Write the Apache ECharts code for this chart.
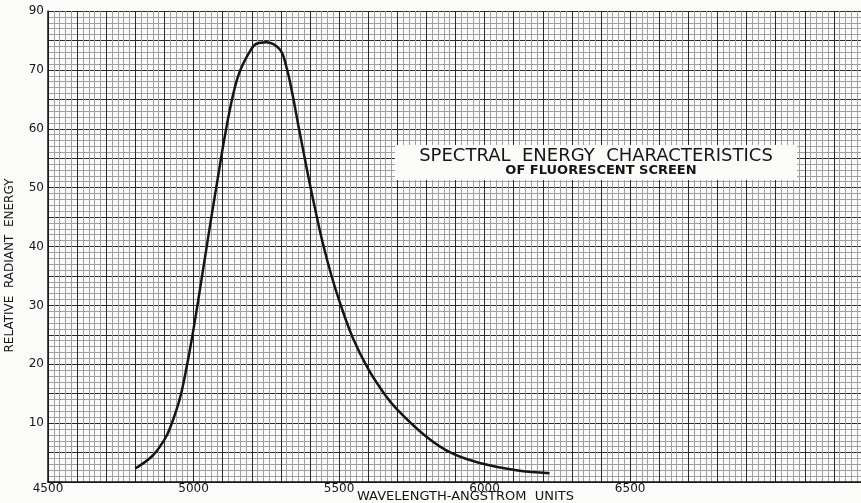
<!DOCTYPE html>
<html>
<head>
<meta charset="utf-8">
<title>Spectral Energy Characteristics</title>
<script src="https://cdn.jsdelivr.net/npm/echarts@6/dist/echarts.min.js"></script>
<style>
  html, body { margin: 0; padding: 0; background: #fbfbfa; }
  #main { width: 861px; height: 503px; }
</style>
</head>
<body>
<div id="main"></div>
<script>
// curve: wavelength (Å) -> relative radiant energy
const wavelengths = [4800, 4860, 4900, 4918, 4952, 4975, 5000, 5030, 5060, 5084,
  5107, 5135, 5158, 5192, 5215, 5250, 5296, 5318, 5341, 5358, 5376, 5398, 5422,
  5444, 5473, 5502, 5547, 5600, 5651, 5700, 5800, 5891, 5994, 6109, 6223];
const energy = [2.3, 4.5, 7.2, 9.0, 14.0, 19.2, 26.0, 35.2, 44.6, 51.8,
  58.6, 65.6, 69.6, 73.0, 74.4, 74.7, 73.5, 70.7, 65.6, 61.1, 56.5, 51.0, 45.4,
  40.6, 35.2, 30.6, 24.5, 19.2, 15.3, 12.3, 7.7, 4.8, 3.1, 2.0, 1.5];

// printed tick labels (the top one is printed as "90")
const xTickValues = [4500, 5000, 5500, 6000, 6500];
const yTickValues = [10, 20, 30, 40, 50, 60, 70, 80];
const yTickLabels = ["10", "20", "30", "40", "50", "60", "70", "90"];

const titleLines = ["SPECTRAL  ENERGY  CHARACTERISTICS", "OF FLUORESCENT SCREEN"];

const chart = echarts.init(document.getElementById("main"));
const ink = "#151515";
const font = "DejaVu Sans";

chart.setOption({
  backgroundColor: "#fbfbfa",
  animation: false,
  grid: { left: 48, right: -2, top: 11, bottom: 21, outerBoundsMode: "none", containLabel: false },
  xAxis: {
    type: "value",
    min: 4500,
    max: 7300,
    interval: 100,
    name: "WAVELENGTH-ANGSTROM  UNITS",
    nameLocation: "middle",
    nameGap: 8,
    nameMoveOverlap: false,
    nameTextStyle: { color: ink, fontFamily: font, fontSize: 13, padding: [0, 0, 0, 20] },
    axisLine: { show: true, lineStyle: { color: ink, width: 1.5 } },
    axisTick: { show: false },
    axisLabel: {
      color: ink, fontFamily: font, fontSize: 12, margin: 1,
      formatter: v => (xTickValues.includes(v) ? String(v) : "")
    },
    splitLine: { show: true, lineStyle: { color: "#2a2a2a", width: 1 } },
    minorTick: { show: false, splitNumber: 5 },
    minorSplitLine: { show: true, lineStyle: { color: "#a0a0a0", width: 1 } }
  },
  yAxis: {
    type: "value",
    min: 0,
    max: 80,
    interval: 5,
    name: "RELATIVE  RADIANT  ENERGY",
    nameLocation: "middle",
    nameGap: 32,
    nameMoveOverlap: false,
    nameTextStyle: { color: ink, fontFamily: font, fontSize: 12, padding: [0, 38, 0, 0] },
    axisLine: { show: true, lineStyle: { color: ink, width: 1.5 } },
    axisTick: { show: false },
    axisLabel: {
      color: ink, fontFamily: font, fontSize: 12, margin: 4,
      formatter: v => {
        const i = yTickValues.indexOf(v);
        return i >= 0 ? yTickLabels[i] : "";
      }
    },
    splitLine: { show: true, lineStyle: { color: "#2a2a2a", width: 1 } },
    minorTick: { show: false, splitNumber: 5 },
    minorSplitLine: { show: true, lineStyle: { color: "#a0a0a0", width: 1 } }
  },
  graphic: [
    {
      type: "group",
      left: 395,
      top: 145,
      z: 100,
      children: [
        { type: "rect", z: 100, shape: { x: 0, y: 0, width: 402, height: 35 }, style: { fill: "#fbfbfa" } },
        {
          type: "text", z: 101, x: 201, y: 11,
          style: { text: titleLines[0], fill: ink, font: "18px " + font, align: "center", verticalAlign: "middle" }
        },
        {
          type: "text", z: 101, x: 206, y: 26,
          style: { text: titleLines[1], fill: ink, font: "bold 13px " + font, align: "center", verticalAlign: "middle" }
        }
      ]
    }
  ],
  series: [
    {
      type: "line",
      data: wavelengths.map((w, i) => [w, energy[i]]),
      smooth: 0.4,
      symbol: "none",
      lineStyle: { color: ink, width: 2.5 },
      z: 5
    }
  ]
});
</script>
</body>
</html>
